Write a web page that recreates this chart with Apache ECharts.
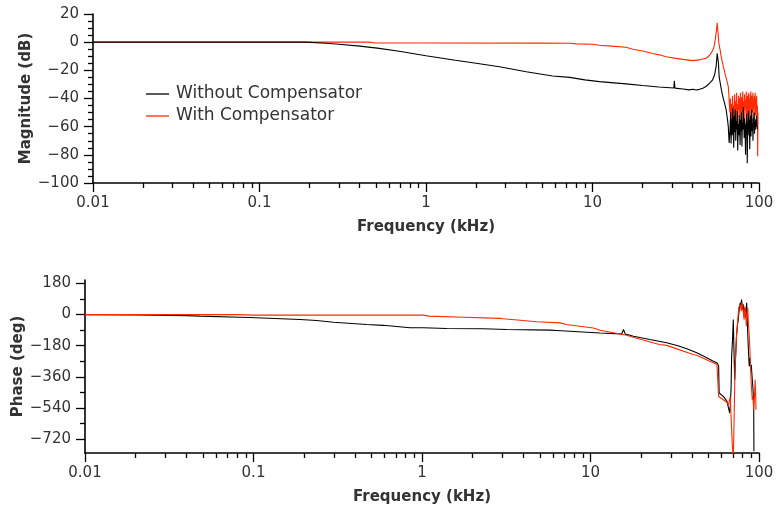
<!DOCTYPE html>
<html><head><meta charset="utf-8">
<script src="https://cdn.jsdelivr.net/npm/echarts@6/dist/echarts.min.js"></script>
<style>html,body{margin:0;padding:0;background:#fff}#c{width:777px;height:510px}</style>
</head><body><div id="c"></div>
<script>
// ---------- data (frequency in kHz, value) ----------
const seriesNames = ['Without Compensator', 'With Compensator'];
const magTicks = [-100, -80, -60, -40, -20, 0, 20];
const phaseTicks = [-720, -540, -360, -180, 0, 180];
const phaseMinorTicks = [-630, -450, -270, -90, 90];
const freqTicks = [0.01, 0.1, 1, 10, 100];
const freqMinorTicks = [0.02,0.03,0.04,0.05,0.06,0.07,0.08,0.09,
  0.2,0.3,0.4,0.5,0.6,0.7,0.8,0.9, 2,3,4,5,6,7,8,9, 20,30,40,50,60,70,80,90];

const magWithout = [
 [0.01,0],[0.05,0],[0.1,0],[0.19,0],[0.25,-0.8],[0.3,-1.5],[0.4,-2.8],[0.51,-4.2],[0.69,-6.5],[1.0,-9.6],
 [1.5,-12.8],[2.0,-15.0],[2.76,-17.4],[4.0,-21.0],[5.76,-24.0],[7.3,-25.0],[9.0,-26.8],[11.0,-28.0],[15.9,-29.6],
 [20,-30.8],[25,-31.8],[30.8,-32.5],[31.0,-27.5],[31.3,-32.6],[35,-33.2],[38,-33.9],[40,-33.4],[42,-34.0],[43.9,-33.5],[46,-32.7],
 [48,-31.5],[50.4,-29.2],[52.5,-27.0],[54.1,-23.3],[55.3,-17],[56.1,-8],[56.6,-6.7],[57.1,-15],[57.6,-24.5],
 [59.5,-34],[60.6,-38.6],[62,-43],[63.5,-48],[64.7,-55],[65.4,-60],[66.2,-71.5],
 [67.0,-62],[67.5,-50],[68.0,-72],[68.5,-55],[69.0,-66],[69.5,-47],[70.0,-60],[70.5,-75],[71.0,-52],[71.5,-64],
 [72.0,-48],[72.5,-70],[73.0,-56],[73.5,-62],[74.0,-49],[74.5,-77],[75.0,-58],[75.5,-66],[76.0,-52],[76.5,-60],
 [77.0,-73],[77.5,-55],[78.0,-63],[78.5,-50],[79.0,-74],[79.5,-57],[80.0,-62],[80.5,-46],[81.0,-56],[81.5,-68],
 [82.0,-54],[82.5,-60],[83.0,-80],[83.5,-58],[84.0,-64],[84.5,-51],[85.0,-86],[85.5,-62],[86.0,-57],[86.5,-49],
 [87.0,-66],[87.5,-55],[88.0,-76],[88.5,-60],[89.0,-52],[89.5,-67],[90.0,-56],[90.5,-48],[91.0,-63],[91.5,-58],
 [92.0,-70],[92.5,-54],[93.0,-60],[93.5,-50],[94.0,-65],[94.5,-57],[95.0,-62],[95.5,-55],[96.0,-60],[96.5,-52],
 [97.0,-58],[97.5,-62]
];
const magWith = [
 [0.01,0],[0.1,0],[0.45,0],[0.5,-0.6],[1,-0.6],[5,-0.7],[7.3,-0.8],[8,-1.2],[10,-1.5],[11,-2.2],[13,-2.8],
 [15.9,-3.6],[17.5,-5],[20,-6.3],[23,-8],[25.2,-9],[27.7,-10.3],[31.8,-11.5],[35,-12.2],[40,-13.1],[43.9,-12.6],
 [46,-12],[48.2,-11.4],[50.4,-9.5],[52.3,-6.7],[53.5,-4],[54.6,1.6],[55.5,8],[56.1,13.8],[56.8,6],[57.4,-0.8],
 [58.5,-6],[59.5,-11.4],[61,-17],[62.4,-22],[64,-27],[65.4,-31.5],[66.2,-41],
 [66.8,-50],[67.3,-40],[67.8,-66],[68.3,-44],[68.8,-56],[69.3,-38],[69.8,-60],[70.3,-45],[70.8,-52],[71.3,-37],
 [71.8,-58],[72.3,-42],[72.8,-49],[73.3,-36],[73.8,-62],[74.3,-44],[74.8,-53],[75.3,-38],[75.8,-48],[76.3,-40],
 [76.8,-57],[77.3,-36],[77.8,-46],[78.3,-55],[78.8,-39],[79.3,-50],[79.8,-35],[80.3,-60],[80.8,-42],[81.3,-48],
 [81.8,-37],[82.3,-54],[82.8,-41],[83.3,-47],[83.8,-35],[84.3,-58],[84.8,-43],[85.3,-38],[85.8,-52],[86.3,-36],
 [86.8,-49],[87.3,-40],[87.8,-64],[88.3,-37],[88.8,-46],[89.3,-35],[89.8,-55],[90.3,-41],[90.8,-38],[91.3,-50],
 [91.8,-36],[92.3,-47],[92.8,-40],[93.3,-58],[93.8,-38],[94.3,-45],[94.8,-36],[95.3,-52],[95.8,-40],[96.3,-48],
 [96.8,-38],[97.3,-60],[97.8,-45],[98.2,-81],[98.6,-50]
];
const phaseWithout = [
 [0.01,0],[0.02,-2],[0.04,-6],[0.048,-9],[0.083,-15],[0.095,-17],[0.189,-28],[0.237,-34],[0.298,-44],[0.47,-57],
 [0.589,-62],[0.85,-76],[1.02,-76],[1.4,-80],[2.31,-82],[3.18,-86],[5.76,-90],[6.3,-92],[7.53,-96],[11.4,-106],
 [14,-110],[15.3,-112],[15.7,-86],[16.1,-113],[18,-125],[22.5,-144],[28.3,-163],[33,-180],[38,-200],[42.7,-221],[48,-245],
 [53.6,-269],[56.5,-280],[57.6,-298],[58,-453],[59.5,-460],[61.4,-473],[63,-480],[64.5,-500],[66.0,-511],[67.0,-569],
 [67.5,-530],[68.3,-420],[68.8,-241],[69.6,-150],[70.4,-29],[71,-200],[71.8,-376],[72.6,-250],[73.6,-118],
 [74.5,-60],[75.5,-20],[76.5,40],[77.4,68],[78,50],[78.8,87],[79.5,30],[80.5,60],[81.6,-9],[82.5,40],[83.5,-20],
 [84.5,68],[85.8,-118],[86.5,-200],[87.5,-298],[88.3,-250],[89.2,-318],[90,-290],[91.2,-376],[92,-420],
 [93.0,-511],[93.3,-790]
];
const phaseWith = [
 [0.01,0],[0.08,0],[0.1,-3],[1.02,-3],[1.1,-9],[1.76,-15],[2.9,-22],[3.04,-24],[4.8,-41],[6.6,-48],[7.2,-57],
 [10.4,-77],[11.4,-90],[16.4,-119],[17.9,-131],[25.6,-173],[28.3,-178],[40.7,-231],[42.7,-235],[50,-265],
 [56.3,-289],[57,-300],[57.6,-473],[61.4,-492],[64,-505],[66.0,-521],[67.5,-473],[68.8,-666],[69.5,-760],
 [70.4,-830],[71.2,-600],[72,-318],[73.6,-118],[75.8,39],[77.4,58],[78.5,20],[79.2,70],[80.0,48],[81,0],
 [81.6,-29],[82.5,48],[83.2,10],[84.1,-67],[85,20],[85.8,39],[86.6,-60],[87.5,-118],[88.3,-200],[89.2,-318],
 [90,-400],[91.2,-492],[92,-470],[93,-550],[94,-480],[94.8,-376],[95.5,-450],[96,-550]
];

// ---------- chart ----------
const FONT = 'DejaVu Sans';
const TXT = '#333';
const BLACK = '#000000';
const RED = '#ff2a00';
const fmtNum = v => { const s = String(+(+v).toPrecision(4)); return s.replace('-', '\u2212'); };

function mainX(grid) {
  return {
    type: 'log', logBase: 10, gridIndex: grid, min: 0.01, max: 100, position: 'bottom',
    name: 'Frequency (kHz)', nameLocation: 'middle', nameGap: 37, nameMoveOverlap: false,
    nameTextStyle: { fontFamily: FONT, fontWeight: 'bold', fontSize: 15, color: TXT },
    axisLine: { show: true, onZero: false, lineStyle: { color: BLACK, width: 1.6 } },
    axisTick: { show: true, inside: false, length: 9, lineStyle: { color: BLACK, width: 1.3 }, customValues: freqTicks },
    axisLabel: { show: true, margin: 13, fontFamily: FONT, fontSize: 15, color: TXT, formatter: fmtNum, customValues: freqTicks },
    splitLine: { show: false }, minorTick: { show: false }
  };
}
function minorX(grid) {
  return {
    type: 'log', logBase: 10, gridIndex: grid, min: 0.01, max: 100, position: 'bottom',
    axisLine: { show: false, onZero: false },
    axisTick: { show: true, inside: false, length: 5, lineStyle: { color: BLACK, width: 1.3 }, customValues: freqMinorTicks },
    axisLabel: { show: false }, splitLine: { show: false }
  };
}

const chart = echarts.init(document.getElementById('c'), null, { renderer: 'canvas' });
chart.setOption({
  animation: false,
  backgroundColor: '#fff',
  grid: [
    { left: 93, top: 14, width: 666, height: 169, containLabel: false },
    { left: 85, top: 280, width: 674, height: 173, containLabel: false }
  ],
  legend: {
    orient: 'vertical', left: 141, top: 80, itemGap: 4, itemWidth: 23, itemHeight: 1.3,
    icon: 'rect',
    data: seriesNames,
    textStyle: { fontFamily: FONT, fontSize: 17, color: TXT, lineHeight: 18, padding: [0, 0, 0, 2] },
    selectedMode: false
  },
  xAxis: [mainX(0), minorX(0), mainX(1), minorX(1)],
  yAxis: [
    { type: 'value', gridIndex: 0, min: -100, max: 20, interval: 20, position: 'left',
      name: 'Magnitude (dB)', nameLocation: 'middle', nameGap: 59, nameMoveOverlap: false,
      nameTextStyle: { fontFamily: FONT, fontWeight: 'bold', fontSize: 15, color: TXT },
      axisLine: { show: true, onZero: false, lineStyle: { color: BLACK, width: 1.6 } },
      axisTick: { show: true, length: 9, lineStyle: { color: BLACK, width: 1.3 } },
      minorTick: { show: true, splitNumber: 4, length: 5, lineStyle: { color: BLACK, width: 1.3 } },
      axisLabel: { margin: 14, fontFamily: FONT, fontSize: 15, color: TXT, formatter: fmtNum },
      splitLine: { show: false } },
    { type: 'value', gridIndex: 1, min: -800, max: 200, position: 'left',
      name: 'Phase (deg)', nameLocation: 'middle', nameGap: 59, nameMoveOverlap: false,
      nameTextStyle: { fontFamily: FONT, fontWeight: 'bold', fontSize: 15, color: TXT },
      axisLine: { show: true, onZero: false, lineStyle: { color: BLACK, width: 1.6 } },
      axisTick: { show: true, length: 9, lineStyle: { color: BLACK, width: 1.3 }, customValues: phaseTicks },
      axisLabel: { margin: 14, fontFamily: FONT, fontSize: 15, color: TXT, formatter: fmtNum, customValues: phaseTicks },
      splitLine: { show: false } },
    { type: 'value', gridIndex: 1, min: -800, max: 200, position: 'left',
      axisLine: { show: false, onZero: false },
      axisTick: { show: true, length: 5, lineStyle: { color: BLACK, width: 1.3 }, customValues: phaseMinorTicks },
      axisLabel: { show: false }, splitLine: { show: false } }
  ],
  series: [
    { name: seriesNames[1], type: 'line', xAxisIndex: 0, yAxisIndex: 0, data: magWith, symbol: 'none', showSymbol: false,
      lineStyle: { color: RED, width: 1.1 }, itemStyle: { color: RED }, clip: true, z: 2 },
    { name: seriesNames[0], type: 'line', xAxisIndex: 0, yAxisIndex: 0, data: magWithout, symbol: 'none', showSymbol: false,
      lineStyle: { color: BLACK, width: 1.1 }, itemStyle: { color: BLACK }, clip: true, z: 3 },
    { name: seriesNames[0], type: 'line', xAxisIndex: 2, yAxisIndex: 1, data: phaseWithout, symbol: 'none', showSymbol: false,
      lineStyle: { color: BLACK, width: 1.1 }, itemStyle: { color: BLACK }, clip: true, z: 2 },
    { name: seriesNames[1], type: 'line', xAxisIndex: 2, yAxisIndex: 1, data: phaseWith, symbol: 'none', showSymbol: false,
      lineStyle: { color: RED, width: 1.1 }, itemStyle: { color: RED }, clip: true, z: 3 }
  ]
});
</script></body></html>
